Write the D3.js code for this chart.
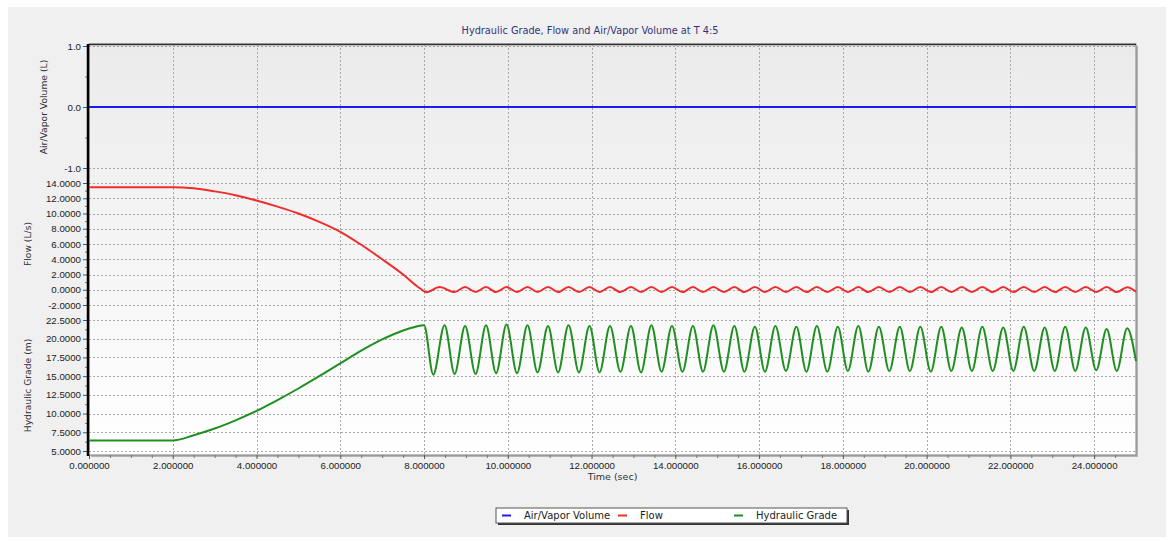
<!DOCTYPE html>
<html>
<head>
<meta charset="utf-8">
<script src="https://cdn.jsdelivr.net/npm/d3@7"></script>
<style>
    body { margin: 0; background: #fff; }
    svg { display: block; font-family: "DejaVu Sans", Verdana, sans-serif; }
    .tick text { font-size: 9.7px; fill: #222; }
</style>
</head>
<body>
<div id="chart"></div>
<script>
// tick values
const timeTicks = [0, 2, 4, 6, 8, 10, 12, 14, 16, 18, 20, 22, 24];
const airTicks = [-1, 0, 1];
const flowTicks = [-2, 0, 2, 4, 6, 8, 10, 12, 14];
const gradeTicks = [5, 7.5, 10, 12.5, 15, 17.5, 20, 22.5];

// Air/Vapor Volume (L)
const airTime = [0, 25];
const airValue = [0, 0];

// Flow (L/s) (extremes of the oscillation after 8 s)
const flowTime = [0, 2, 2.5, 3, 3.5, 4, 4.5, 5, 5.5, 6, 6.5, 7, 7.5, 7.9, 8.06,
    8.37, 8.73, 8.98, 9.23, 9.48, 9.72, 9.97, 10.22, 10.47, 10.71, 10.96, 11.20, 11.45, 11.70, 11.95,
    12.19, 12.44, 12.69, 12.94, 13.18, 13.43, 13.67, 13.92, 14.17, 14.42, 14.66, 14.91, 15.16, 15.41,
    15.65, 15.90, 16.14, 16.39, 16.64, 16.89, 17.13, 17.38, 17.63, 17.88, 18.12, 18.37, 18.61, 18.86,
    19.11, 19.36, 19.60, 19.85, 20.10, 20.35, 20.59, 20.84, 21.08, 21.33, 21.58, 21.83, 22.07, 22.32,
    22.57, 22.82, 23.06, 23.31, 23.55, 23.80, 24.05, 24.30, 24.54, 24.79, 25];
const flowValue = [13.45, 13.45, 13.3, 12.9, 12.4, 11.7, 10.9, 10.0, 8.9, 7.6, 5.9, 4.0, 2.0, 0.2, -0.32,
    0.35, -0.3, 0.36, -0.3, 0.35, -0.31, 0.36, -0.3, 0.35, -0.3, 0.36, -0.31, 0.35, -0.3, 0.36,
    -0.3, 0.35, -0.31, 0.36, -0.3, 0.35, -0.3, 0.36, -0.31, 0.35, -0.3, 0.36, -0.3, 0.35,
    -0.31, 0.36, -0.3, 0.35, -0.3, 0.36, -0.31, 0.35, -0.3, 0.36, -0.3, 0.35, -0.31, 0.36,
    -0.3, 0.35, -0.3, 0.36, -0.31, 0.35, -0.3, 0.36, -0.3, 0.35, -0.31, 0.36, -0.3, 0.35,
    -0.3, 0.36, -0.31, 0.35, -0.3, 0.36, -0.3, 0.35, -0.31, 0.34, -0.25];

// Hydraulic Grade (m)
const gradeTime = [0, 2, 2.5, 3, 3.5, 4, 4.5, 5, 5.5, 6, 6.5, 7, 7.5, 7.8, 8.0,
    8.22, 8.49, 8.73, 8.98, 9.23, 9.48, 9.72, 9.97, 10.22, 10.47, 10.71, 10.96, 11.20, 11.45, 11.70, 11.95,
    12.19, 12.44, 12.69, 12.94, 13.18, 13.43, 13.67, 13.92, 14.17, 14.42, 14.66, 14.91, 15.16, 15.41,
    15.65, 15.90, 16.14, 16.39, 16.64, 16.89, 17.13, 17.38, 17.63, 17.88, 18.12, 18.37, 18.61, 18.86,
    19.11, 19.36, 19.60, 19.85, 20.10, 20.35, 20.59, 20.84, 21.08, 21.33, 21.58, 21.83, 22.07, 22.32,
    22.57, 22.82, 23.06, 23.31, 23.55, 23.80, 24.05, 24.30, 24.54, 24.79, 25];
const gradeValue = [6.4, 6.4, 7.1, 8.0, 9.1, 10.35, 11.8, 13.35, 15.0, 16.7, 18.4, 19.9, 21.1, 21.6, 21.8,
    15.2, 21.8, 15.3, 21.7, 15.3, 21.8, 15.4, 21.9, 15.4, 21.8, 15.5, 21.7, 15.5, 21.8, 15.5, 21.7,
    15.5, 21.7, 15.6, 21.7, 15.5, 21.8, 15.6, 21.7, 15.6, 21.7, 15.6, 21.8, 15.6, 21.7,
    15.6, 21.6, 15.6, 21.7, 15.7, 21.6, 15.6, 21.7, 15.6, 21.6, 15.7, 21.7, 15.6, 21.6,
    15.7, 21.6, 15.7, 21.6, 15.6, 21.6, 15.7, 21.5, 15.7, 21.6, 15.7, 21.5, 15.7, 21.6,
    15.7, 21.5, 15.7, 21.6, 15.7, 21.5, 15.8, 21.3, 15.7, 21.4, 17.0];

const legendItems = [
    {name: "Air/Vapor Volume", color: "#1c1cf2"},
    {name: "Flow", color: "#f02c2c"},
    {name: "Hydraulic Grade", color: "#1f8f1f"}
];

const width = 1175, height = 541;
const plotLeft = 89, plotRight = 1136, plotTop = 44, plotBottom = 455;

const svg = d3.select("#chart").append("svg")
    .attr("width", width)
    .attr("height", height);

const defs = svg.append("defs");
const grad = defs.append("linearGradient")
    .attr("id", "plotBg")
    .attr("x1", 0).attr("y1", 0).attr("x2", 0).attr("y2", 1);
grad.append("stop").attr("offset", "0%").attr("stop-color", "#ebebeb");
grad.append("stop").attr("offset", "100%").attr("stop-color", "#ffffff");

// outer panel
svg.append("rect")
    .attr("x", 8).attr("y", 7)
    .attr("width", 1158).attr("height", 530)
    .attr("fill", "#f0f0f0");

const x = d3.scaleLinear().domain([0, 25]).range([plotLeft, plotRight]);
const yAir = d3.scaleLinear().domain([-1, 1]).range([168, 46]);
const yFlow = d3.scaleLinear().domain([-2, 14]).range([305, 183]);
const yGrade = d3.scaleLinear().domain([5, 22.5]).range([451, 320]);

// plot shadow + background
svg.append("rect")
    .attr("x", plotLeft + 2).attr("y", plotTop + 2)
    .attr("width", plotRight - plotLeft).attr("height", plotBottom - plotTop)
    .attr("fill", "#b4b4b4");
svg.append("rect")
    .attr("x", plotLeft).attr("y", plotTop)
    .attr("width", plotRight - plotLeft).attr("height", plotBottom - plotTop)
    .attr("fill", "url(#plotBg)")
    .attr("stroke", "#808080")
    .attr("stroke-width", 1);

const grid = svg.append("g")
    .attr("stroke", "#a9a9a9")
    .attr("stroke-width", 1)
    .attr("stroke-dasharray", "2,2");

grid.selectAll("line.v")
    .data(timeTicks.filter(d => d > 0))
    .join("line")
    .attr("class", "v")
    .attr("x1", d => Math.round(x(d)) + 0.5).attr("x2", d => Math.round(x(d)) + 0.5)
    .attr("y1", plotTop).attr("y2", plotBottom);

const panels = [
    {scale: yAir, ticks: airTicks, fmt: d => d.toFixed(1), label: "Air/Vapor Volume (L)", labelX: 47},
    {scale: yFlow, ticks: flowTicks, fmt: d => d.toFixed(4), label: "Flow (L/s)", labelX: 31},
    {scale: yGrade, ticks: gradeTicks, fmt: d => d.toFixed(4), label: "Hydraulic Grade (m)", labelX: 31}
];

panels.forEach(p => {
    grid.append("g").selectAll("line")
        .data(p.ticks)
        .join("line")
        .attr("x1", plotLeft).attr("x2", plotRight)
        .attr("y1", d => Math.round(p.scale(d)) + 0.5)
        .attr("y2", d => Math.round(p.scale(d)) + 0.5);

    const minor = d3.pairs(p.ticks).map(([a, b]) => (a + b) / 2);
    svg.append("g")
        .attr("transform", `translate(${plotLeft - 1},0)`)
        .call(d3.axisLeft(p.scale).tickValues(minor).tickSize(3).tickFormat(""))
        .call(g => g.select(".domain").remove())
        .call(g => g.selectAll("line").attr("stroke", "#777"));

    svg.append("g")
        .attr("transform", `translate(${plotLeft - 1},0)`)
        .call(d3.axisLeft(p.scale).tickValues(p.ticks).tickSize(5).tickPadding(2).tickFormat(p.fmt))
        .call(g => g.select(".domain").remove())
        .call(g => g.selectAll("line").attr("stroke", "#555"));

    const [r0, r1] = p.scale.range();
    svg.append("text")
        .attr("transform", `translate(${p.labelX},${(r0 + r1) / 2}) rotate(-90)`)
        .attr("text-anchor", "middle")
        .attr("font-size", 9.2)
        .attr("fill", "#333")
        .text(p.label);
});

// x axis
const xMinor = d3.range(0.5, 25, 0.5).filter(d => d % 2 !== 0);
svg.append("g")
    .attr("transform", `translate(0,${plotBottom})`)
    .call(d3.axisBottom(x).tickValues(xMinor).tickSize(3).tickFormat(""))
    .call(g => g.select(".domain").remove())
    .call(g => g.selectAll("line").attr("stroke", "#777"));
svg.append("g")
    .attr("transform", `translate(0,${plotBottom})`)
    .call(d3.axisBottom(x).tickValues(timeTicks).tickSize(4).tickPadding(3).tickFormat(d => d.toFixed(6)))
    .call(g => g.select(".domain").remove())
    .call(g => g.selectAll("line").attr("stroke", "#555"));

svg.append("text")
    .attr("x", (plotLeft + plotRight) / 2)
    .attr("y", 480)
    .attr("text-anchor", "middle")
    .attr("font-size", 9.5)
    .attr("fill", "#333")
    .text("Time (sec)");

// borders
svg.append("line")
    .attr("x1", plotLeft).attr("x2", plotRight)
    .attr("y1", plotTop + 0.5).attr("y2", plotTop + 0.5)
    .attr("stroke", "#333").attr("stroke-width", 1.5);
svg.append("line")
    .attr("x1", plotLeft - 1).attr("x2", plotLeft - 1)
    .attr("y1", plotTop).attr("y2", plotBottom + 1)
    .attr("stroke", "#000").attr("stroke-width", 2.5);

// series
const series = [
    {t: airTime, v: airValue, y: yAir, color: legendItems[0].color},
    {t: flowTime, v: flowValue, y: yFlow, color: legendItems[1].color},
    {t: gradeTime, v: gradeValue, y: yGrade, color: legendItems[2].color}
];

series.forEach(s => {
    const pts = s.t.map((t, i) => [t, s.v[i]]);
    const line = d3.line()
        .x(d => x(d[0]))
        .y(d => s.y(d[1]))
        .curve(d3.curveMonotoneX);
    svg.append("path")
        .datum(pts)
        .attr("fill", "none")
        .attr("stroke", s.color)
        .attr("stroke-width", 2)
        .attr("stroke-linejoin", "round")
        .attr("d", line);
});

// title
svg.append("text")
    .attr("x", 590)
    .attr("y", 34)
    .attr("text-anchor", "middle")
    .attr("font-size", 9.75)
    .attr("fill", "#33337a")
    .text("Hydraulic Grade, Flow and Air/Vapor Volume at T 4:5");

// legend
const legend = svg.append("g");
legend.append("rect")
    .attr("x", 498).attr("y", 510)
    .attr("width", 351).attr("height", 15)
    .attr("fill", "#333");
legend.append("rect")
    .attr("x", 496).attr("y", 508)
    .attr("width", 351).attr("height", 15)
    .attr("fill", "#fff")
    .attr("stroke", "#555");

const item = legend.selectAll("g.item")
    .data(legendItems)
    .join("g")
    .attr("class", "item")
    .attr("transform", (d, i) => `translate(${502 + i * 116},0)`);
item.append("line")
    .attr("x1", 0).attr("x2", 9)
    .attr("y1", 515.5).attr("y2", 515.5)
    .attr("stroke", d => d.color)
    .attr("stroke-width", 2);
item.append("text")
    .attr("x", 22)
    .attr("y", 519)
    .attr("font-size", 10)
    .attr("fill", "#222")
    .text(d => d.name);
</script>
</body>
</html>
